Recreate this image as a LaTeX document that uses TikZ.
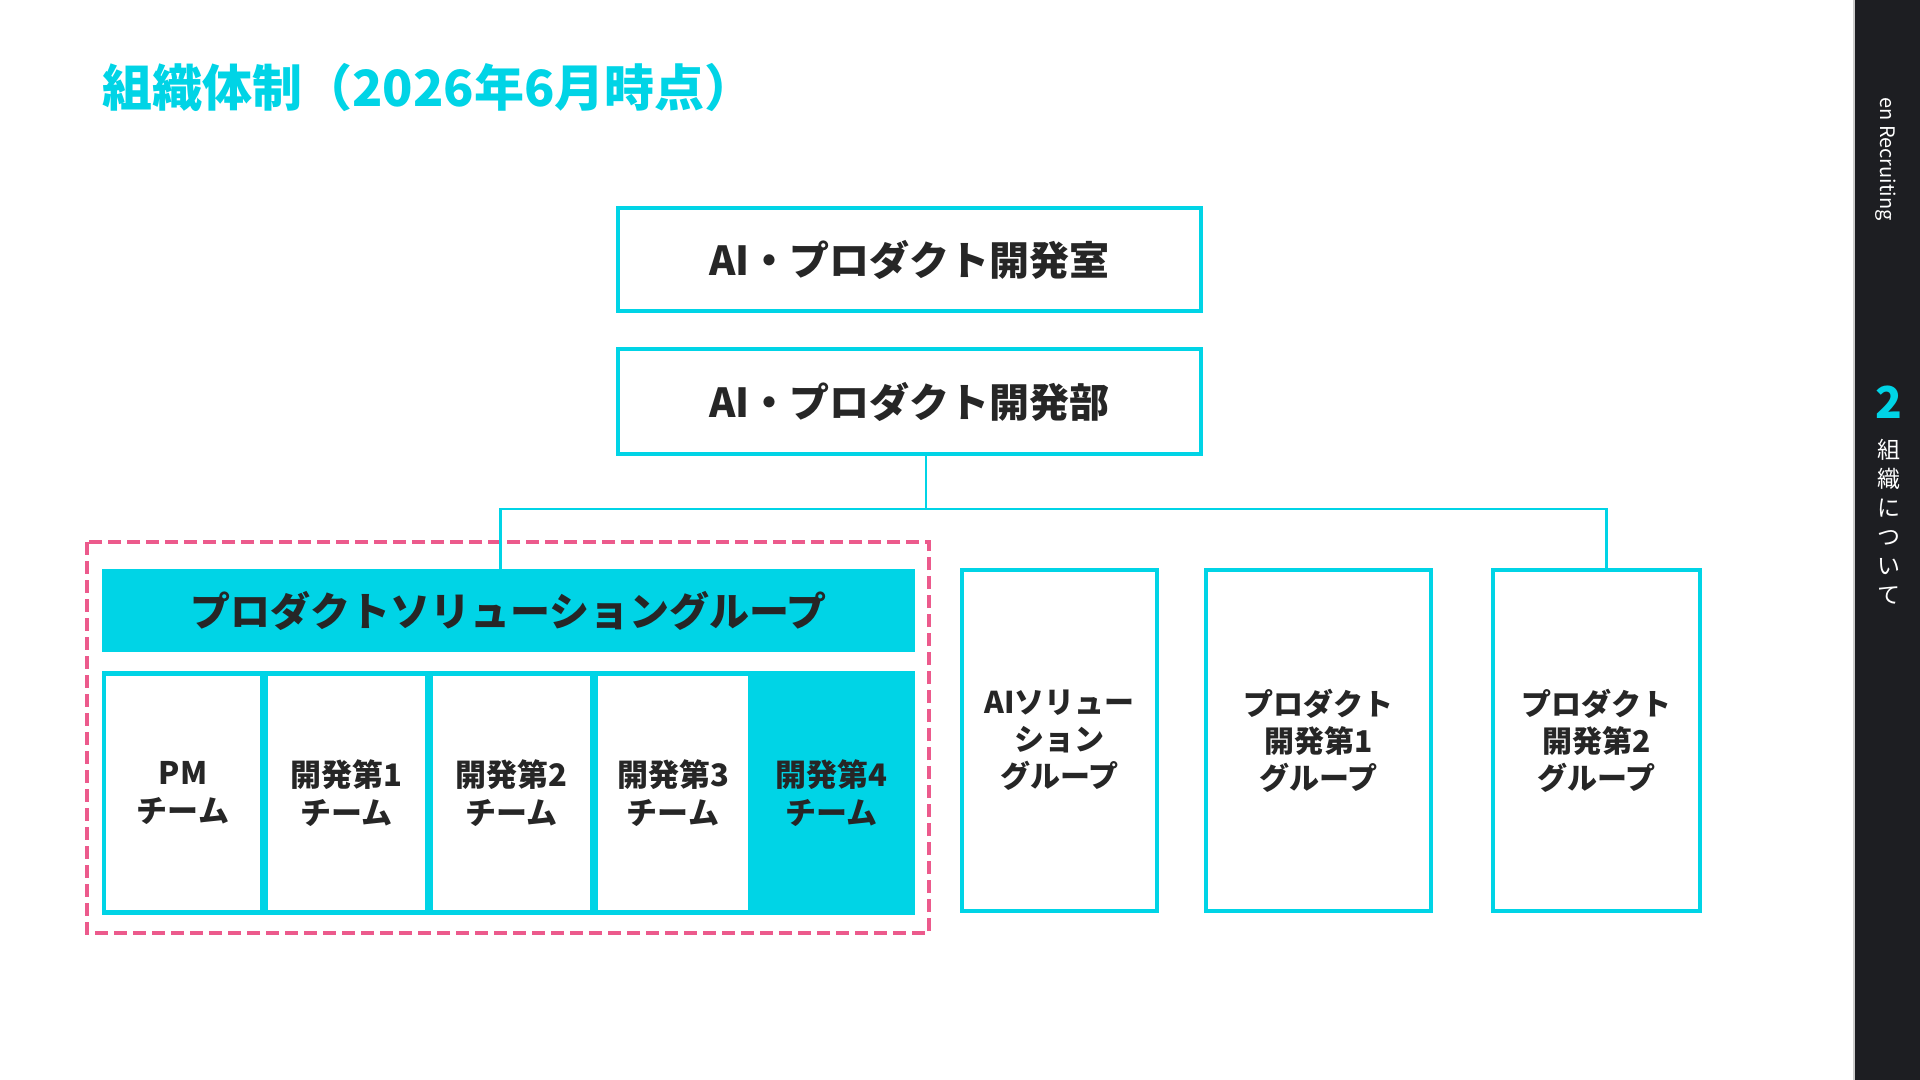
\documentclass[tikz,border=0pt]{standalone}
\usepackage{fontspec}
\setmainfont{Noto Sans CJK JP}
\usepackage{tikz}

\definecolor{brandcyan}{RGB}{0,212,230}
\definecolor{framepink}{RGB}{236,90,140}
\definecolor{inkgray}{RGB}{38,38,38}
\definecolor{sidedark}{RGB}{29,30,34}

\tikzset{
  orgbox/.style={draw=brandcyan, line width=2pt, fill=white, inner sep=0pt, outer sep=0pt,
    text=inkgray, minimum width=291.5pt, font=\bfseries\fontsize{20}{24}\selectfont},
  groupbox/.style={draw=brandcyan, line width=2pt, fill=white, inner sep=0pt, outer sep=0pt,
    text=inkgray, align=center, minimum height=170.5pt, font=\bfseries\fontsize{15}{18.5}\selectfont},
  teamcell/.style={inner sep=0pt, outer sep=0pt, text=inkgray, align=center,
    minimum height=117pt, font=\bfseries\fontsize{15.5}{19}\selectfont},
  conn/.style={draw=brandcyan, line width=1.2pt},
  pinkframe/.style={draw=framepink, line width=1.8pt, dash pattern=on 6.5pt off 3pt},
  sidetext/.style={text=white, inner sep=0pt, font=\fontsize{10}{12}\selectfont},
}

\begin{document}
\begin{tikzpicture}[x=0.5pt,y=0.5pt,yscale=-1,xscale=1]
\useasboundingbox (0,0) rectangle (1920,1080);
\fill[white] (0,0) rectangle (1920,1080);
%Shape: Side bar
\fill[sidedark] (1855,0) rectangle (1920,1080);
\draw[gray!40, line width=1pt] (1854,0) -- (1854,1080);
% Text Node
\node[sidetext, rotate=-90] (brand) at (1886,159) {en Recruiting};
% Text Node
\node[text=brandcyan, inner sep=0pt, font=\bfseries\fontsize{22}{22}\selectfont] (chapno) at (1889,402) {2};
% Text Node
\node[sidetext, align=center, font=\fontsize{11.5}{14.5}\selectfont] (chapname) at (1889,522) {組\\織\\に\\つ\\い\\て};
% Text Node
\node[anchor=west, inner sep=0pt, text=brandcyan, font=\bfseries\fontsize{25}{30}\selectfont] (title) at (102,88) {組織体制（2026年6月時点）};

%Shape: Rectangle
\node[orgbox, minimum height=51.5pt] (office) at (909.5,259.5) {AI・プロダクト開発室};
%Shape: Rectangle
\node[orgbox, minimum height=52.5pt] (dept) at (909.5,401.5) {AI・プロダクト開発部};

%Shape: Rectangle
\node[fill=brandcyan, inner sep=0pt, outer sep=0pt, minimum width=406.5pt, minimum height=41.5pt,
  text=inkgray, font=\bfseries\fontsize{20}{24}\selectfont] (psg) at (508.5,610.5) {プロダクトソリューショングループ};
%Shape: Rectangle
\node[fill=brandcyan, inner sep=0pt, outer sep=0pt, minimum width=406.5pt, minimum height=122pt] (teams) at (508.5,793) {};
\foreach \nm/\cx/\w/\bg/\txt in {pm/183/77/white/{PM\\チーム},
    dev1/346.5/78.5/white/{開発第1\\チーム},
    dev2/511.5/78.5/white/{開発第2\\チーム},
    dev3/673/75/white/{開発第3\\チーム},
    dev4/831.5/83.5/brandcyan/{開発第4\\チーム}}
  \node[teamcell, fill=\bg, minimum width=\w pt] (\nm) at (\cx,793) {\txt};

%Shape: Dashed frame
\draw[pinkframe] (87,542) rectangle (929,933);

%Shape: Rectangle
\node[groupbox, minimum width=97.5pt] (ais) at (1059.5,740.5) {AIソリュー\\ション\\グループ};
%Shape: Rectangle
\node[groupbox, minimum width=112.5pt] (pd1) at (1318.5,740.5) {プロダクト\\開発第1\\グループ};
%Shape: Rectangle
\node[groupbox, minimum width=103.5pt] (pd2) at (1596.5,740.5) {プロダクト\\開発第2\\グループ};

%Straight Lines
\coordinate (hub) at (926,509);
\draw[conn] (dept.south -| hub) -- (hub);
\draw[conn] ([xshift=-4pt]psg.north) |- (hub) -| ([xshift=5pt]pd2.north);
\end{tikzpicture}
\end{document}
